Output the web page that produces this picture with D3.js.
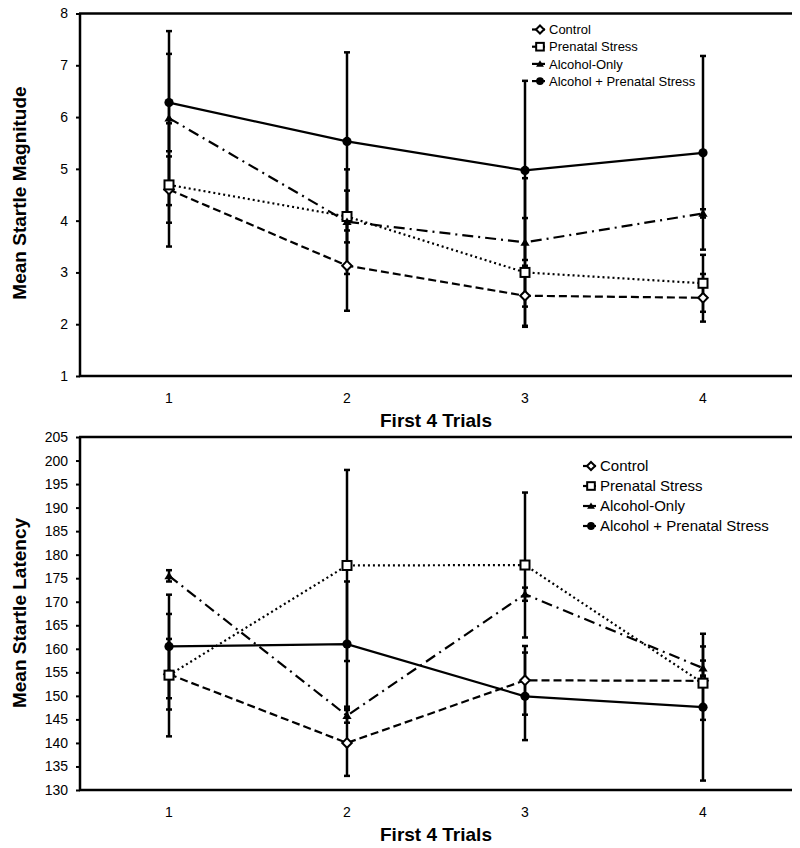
<!DOCTYPE html>
<html><head><meta charset="utf-8">
<script src="https://cdn.jsdelivr.net/npm/d3@7"></script>
<style>body{margin:0;background:#fff;}svg{display:block;font-family:"Liberation Sans",Arial,sans-serif;}</style>
</head><body><svg id="c" width="800" height="848"></svg>
<script>
const trials = ["1","2","3","4"];
const seriesNames = ["Control","Prenatal Stress","Alcohol-Only","Alcohol + Prenatal Stress"];

// Top chart: Mean Startle Magnitude
const magTicks = [1,2,3,4,5,6,7,8];
const magControl  = [4.60, 3.13, 2.55, 2.51];
const magPrenatal = [4.69, 4.08, 3.00, 2.79];
const magAlcohol  = [5.98, 3.98, 3.58, 4.14];
const magAlcPS    = [6.28, 5.53, 4.97, 5.31];
const magControlErr  = [0.64, 0.87, 0.58, 0.46];
const magPrenatalErr = [1.19, 0.50, 1.05, 0.55];
const magAlcoholErr  = [1.68, 1.01, 1.24, 0.08];
const magAlcPSErr    = [0.94, 1.72, 1.73, 1.87];

// Bottom chart: Mean Startle Latency
const latTicks = [130,135,140,145,150,155,160,165,170,175,180,185,190,195,200,205];
const latControl  = [154.6, 140.0, 153.3, 153.2];
const latPrenatal = [154.4, 177.7, 177.8, 152.7];
const latAlcohol  = [175.5, 145.8, 171.6, 155.9];
const latAlcPS    = [160.5, 161.0, 149.9, 147.6];
const latControlErr  = [7.5, 7.0, 7.3, 1.0];
const latPrenatalErr = [13.0, 20.3, 15.4, 7.8];
const latAlcoholErr  = [1.2, 1.5, 1.4, 1.6];
const latAlcPSErr    = [11.0, 13.3, 9.3, 15.6];

const styles = [
  {dash:"8,4", marker:"diamond"},
  {dash:"2,3", marker:"square"},
  {dash:"11,5,2,5", marker:"triangle"},
  {dash:null, marker:"circle"}
];

const svg = d3.select("#c");

function drawMarker(g, type, x, y, s) {
  s = s || 1;
  if (type === "diamond") {
    const r = 4.8*s;
    g.append("path").attr("d", `M${x},${y-r}L${x+r},${y}L${x},${y+r}L${x-r},${y}Z`)
      .attr("fill","#fff").attr("stroke","#000").attr("stroke-width",2);
  } else if (type === "square") {
    const h = 4.5*s;
    g.append("rect").attr("x",x-h).attr("y",y-h).attr("width",2*h).attr("height",2*h)
      .attr("fill","#fff").attr("stroke","#000").attr("stroke-width",2);
  } else if (type === "triangle") {
    const h = 4.2*s;
    g.append("path").attr("d", `M${x},${y-h}L${x+h*1.1},${y+h*0.8}L${x-h*1.1},${y+h*0.8}Z`)
      .attr("fill","#000");
  } else {
    g.append("circle").attr("cx",x).attr("cy",y).attr("r",4.6*s).attr("fill","#000");
  }
}

function chart(cfg) {
  const g = svg.append("g");
  const x = d3.scaleBand().domain(trials).range([80, 792]);
  const y = d3.scaleLinear().domain([cfg.ticks[0], cfg.ticks[cfg.ticks.length-1]]).range([cfg.bottom, cfg.top]);
  const cx = d => x(d) + x.bandwidth()/2;

  // y axis
  const ya = g.append("g").attr("transform","translate(80,0)")
    .call(d3.axisLeft(y).tickValues(cfg.ticks).tickSize(4).tickPadding(8).tickFormat(d3.format("d")));
  ya.select(".domain").remove();
  ya.selectAll(".tick line").attr("stroke","#000").attr("stroke-width",2);
  ya.selectAll(".tick text").attr("font-size",14).attr("fill","#000").attr("font-family","Liberation Sans, Arial, sans-serif");
  g.append("line").attr("x1",80).attr("x2",80).attr("y1",cfg.top).attr("y2",cfg.bottom).attr("stroke","#000").attr("stroke-width",2.5);
  // top border
  g.append("line").attr("x1",79).attr("x2",792).attr("y1",cfg.top).attr("y2",cfg.top).attr("stroke","#000").attr("stroke-width",2.5);
  // x axis
  const xa = g.append("g").attr("transform",`translate(0,${cfg.bottom})`)
    .call(d3.axisBottom(x).tickSize(0).tickPadding(17));
  xa.select(".domain").remove();
  xa.selectAll(".tick text").attr("font-size",14).attr("fill","#000").attr("font-family","Liberation Sans, Arial, sans-serif");
  g.append("line").attr("x1",79).attr("x2",792).attr("y1",cfg.bottom).attr("y2",cfg.bottom).attr("stroke","#000").attr("stroke-width",2.5);

  // titles
  g.append("text").attr("x",(80+792)/2).attr("y",cfg.bottom+51).attr("text-anchor","middle")
    .attr("font-size",19).attr("font-weight","bold").text("First 4 Trials");
  g.append("text").attr("transform",`translate(26,${cfg.ycenter}) rotate(-90)`).attr("text-anchor","middle")
    .attr("font-size",19).attr("font-weight","bold").text(cfg.ytitle);

  const line = d3.line().x((d,i)=>cx(trials[i])).y(d=>y(d));
  cfg.means.forEach((m,si)=>{
    g.append("path").attr("d", line(m)).attr("fill","none").attr("stroke","#000")
      .attr("stroke-width",2.2).attr("stroke-dasharray", styles[si].dash);
  });
  // error bars
  cfg.means.forEach((m,si)=>{
    m.forEach((v,i)=>{
      const e = cfg.errs[si][i], px = cx(trials[i]);
      g.append("line").attr("x1",px).attr("x2",px).attr("y1",y(v-e)).attr("y2",y(v+e))
        .attr("stroke","#000").attr("stroke-width",2.5);
      [v-e, v+e].forEach(w=>{
        g.append("line").attr("x1",px-3).attr("x2",px+3).attr("y1",y(w)).attr("y2",y(w))
          .attr("stroke","#000").attr("stroke-width",2.5);
      });
    });
  });
  cfg.means.forEach((m,si)=>{
    m.forEach((v,i)=> drawMarker(g, styles[si].marker, cx(trials[i]), y(v)));
  });

  // legend
  const L = cfg.legend;
  seriesNames.forEach((n,si)=>{
    const ly = L.y + si*L.dy;
    g.append("line").attr("x1",L.x-8).attr("x2",L.x+5).attr("y1",ly).attr("y2",ly)
      .attr("stroke","#000").attr("stroke-width",2.2);
    drawMarker(g, styles[si].marker, L.x, ly, 0.85);
    g.append("text").attr("x",L.x+9).attr("y",ly).attr("dy","0.36em").attr("font-size",L.fs).text(n);
  });
}

chart({top:13.5, bottom:376, ticks:magTicks, ycenter:193, ytitle:"Mean Startle Magnitude",
  means:[magControl,magPrenatal,magAlcohol,magAlcPS],
  errs:[magControlErr,magPrenatalErr,magAlcoholErr,magAlcPSErr],
  legend:{x:540, y:29.5, dy:17.2, fs:13}});
chart({top:437, bottom:790, ticks:latTicks, ycenter:613, ytitle:"Mean Startle Latency",
  means:[latControl,latPrenatal,latAlcohol,latAlcPS],
  errs:[latControlErr,latPrenatalErr,latAlcoholErr,latAlcPSErr],
  legend:{x:591, y:466, dy:20, fs:15}});
</script></body></html>
